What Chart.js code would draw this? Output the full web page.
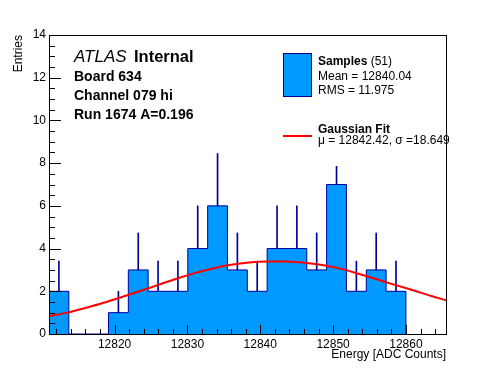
<!DOCTYPE html>
<html>
<head>
<meta charset="utf-8">
<script src="https://cdn.jsdelivr.net/npm/chart.js@4.4.0/dist/chart.umd.min.js"></script>
<style>
  html, body { margin: 0; padding: 0; background: #fff; }
</style>
</head>
<body>
<canvas id="hist" width="496" height="372"></canvas>
<script>
// histogram: 18 equal bins between histMin and histMax
const histMin = 12811.0;
const histMax = 12860.0;
const counts = [2, 0, 0, 1, 3, 2, 2, 4, 6, 3, 2, 4, 4, 3, 7, 2, 3, 2];
// upper error bar length per bin, as drawn on the plot
const errUp = [1.41, 0, 0, 1.0, 1.73, 1.41, 1.41, 2.0, 2.45, 1.73, 1.41, 2.0, 2.0, 1.73, 0.85, 1.41, 1.73, 1.41];

// gaussian fit curve
const fitX = [12811, 12813.5, 12816, 12818.5, 12821, 12823.5, 12826, 12828.5, 12831, 12833.5, 12836, 12838.5,
              12841, 12843.5, 12846, 12848.5, 12851, 12853.5, 12856, 12858.5, 12861, 12863.5, 12865.5];
const fitY = [0.83, 1.0, 1.22, 1.46, 1.73, 2.01, 2.3, 2.59, 2.85, 3.07, 3.24, 3.35,
              3.4, 3.4, 3.34, 3.23, 3.06, 2.82, 2.56, 2.3, 2.05, 1.78, 1.58];

const xTicks = [12820, 12830, 12840, 12850, 12860];
const yTicks = [0, 2, 4, 6, 8, 10, 12, 14];
const xRange = [12811.0, 12865.5];
const yRange = [0, 14];

const infoLines = ['Board 634', 'Channel 079 hi', 'Run 1674 A=0.196'];
const sampleStats = ['Mean = 12840.04', 'RMS = 11.975'];
const fitStats = 'μ = 12842.42, σ =18.649';

const FONT = '"Liberation Sans", Arial, Helvetica, sans-serif';
const FILL = '#0099ff';
const EDGE = '#000099';

const binW = (histMax - histMin) / counts.length;

// outline + fill of the histogram as a stepped line
const stepPts = [{x: histMin, y: 0}];
counts.forEach((c, i) => stepPts.push({x: histMin + i * binW, y: c}));
stepPts.push({x: histMax, y: 0});

const errPts = [];
counts.forEach((c, i) => {
    if (c > 0) errPts.push({x: histMin + (i + 0.5) * binW, y: [c, c + errUp[i]]});
});

const fitPts = fitX.map((x, i) => ({x: x, y: fitY[i]}));

// ROOT style inward ticks, frame, labels and legend
const decor = {
    id: 'decor',
    afterDraw(chart) {
        const ctx = chart.ctx;
        const a = chart.chartArea;
        const sx = chart.scales.x;
        const sy = chart.scales.y;
        const left = Math.round(a.left), right = Math.round(a.right);
        const top = Math.round(a.top), bottom = Math.round(a.bottom);
        ctx.save();
        ctx.fillStyle = '#000000';
        for (let v = Math.ceil(xRange[0] / 2) * 2; v <= xRange[1]; v += 2) {
            const px = Math.round(sx.getPixelForValue(v));
            const len = xTicks.includes(v) ? 9 : 5;
            ctx.fillRect(px, bottom - len, 1, len);
        }
        for (let v = yRange[0]; v <= yRange[1]; v += 0.5) {
            const py = Math.round(sy.getPixelForValue(v));
            const len = yTicks.includes(v) ? 12 : 6;
            ctx.fillRect(left, py, len, 1);
        }
        // frame
        ctx.fillRect(left, top, right - left + 1, 1);
        ctx.fillRect(left, bottom, right - left + 1, 1);
        ctx.fillRect(left, top, 1, bottom - top + 1);
        ctx.fillRect(right, top, 1, bottom - top + 1);

        // ATLAS label block
        ctx.textAlign = 'left';
        ctx.textBaseline = 'alphabetic';
        ctx.font = 'italic 17px ' + FONT;
        ctx.fillText('ATLAS', 74, 62);
        ctx.font = 'bold 16.5px ' + FONT;
        ctx.fillText('Internal', 134, 62);
        ctx.font = 'bold 14px ' + FONT;
        [80.5, 100, 119].forEach((by, i) => ctx.fillText(infoLines[i], 74, by));

        // legend
        ctx.fillStyle = FILL;
        ctx.fillRect(283.5, 53.5, 28, 43);
        ctx.strokeStyle = EDGE;
        ctx.lineWidth = 1;
        ctx.strokeRect(283.5, 53.5, 28, 43);
        ctx.fillStyle = '#000';
        ctx.font = 'bold 12px ' + FONT;
        ctx.fillText('Samples', 318, 65);
        const sw = ctx.measureText('Samples ').width;
        ctx.font = '12px ' + FONT;
        ctx.fillText('(51)', 318 + sw, 65);
        ctx.fillText(sampleStats[0], 318, 80);
        ctx.fillText(sampleStats[1], 318, 94);

        ctx.fillStyle = '#ff0000';
        ctx.fillRect(283, 135, 29, 2);
        ctx.fillStyle = '#000';
        ctx.font = 'bold 12px ' + FONT;
        ctx.fillText('Gaussian Fit', 318, 133);
        ctx.font = '12px ' + FONT;
        ctx.fillText(fitStats, 318, 143.5);
        ctx.restore();
    }
};

const axisFont = {family: FONT, size: 12};

new Chart(document.getElementById('hist').getContext('2d'), {
    type: 'line',
    data: {
        datasets: [{
            type: 'line',
            label: 'Gaussian Fit',
            data: fitPts,
            borderColor: '#ff0000',
            borderWidth: 2,
            pointRadius: 0,
            cubicInterpolationMode: 'monotone',
            fill: false,
            order: 0
        }, {
            type: 'bar',
            label: 'errors',
            data: errPts,
            backgroundColor: EDGE,
            borderWidth: 0,
            barThickness: 1,
            order: 1
        }, {
            type: 'line',
            label: 'Samples',
            data: stepPts,
            stepped: 'before',
            borderColor: EDGE,
            borderWidth: 1,
            backgroundColor: FILL,
            fill: 'origin',
            pointRadius: 0,
            order: 2
        }]
    },
    options: {
        responsive: false,
        devicePixelRatio: 1,
        animation: false,
        layout: {padding: {top: 35, right: 50, left: 0, bottom: 0}},
        plugins: {legend: {display: false}, tooltip: {enabled: false}},
        scales: {
            x: {
                type: 'linear',
                min: xRange[0],
                max: xRange[1],
                offset: false,
                grid: {display: false, drawTicks: false},
                border: {display: false},
                afterBuildTicks: s => { s.ticks = xTicks.map(v => ({value: v})); },
                afterFit: s => { s.height = 38; },
                ticks: {padding: 3, color: '#000', font: axisFont, maxRotation: 0, autoSkip: false,
                        callback: v => String(v)},
                title: {display: true, text: 'Energy [ADC Counts]', align: 'end', color: '#000',
                        font: axisFont, padding: {top: 0, bottom: 10}}
            },
            y: {
                type: 'linear',
                min: yRange[0],
                max: yRange[1],
                grid: {display: false, drawTicks: false},
                border: {display: false},
                afterBuildTicks: s => { s.ticks = yTicks.map(v => ({value: v})); },
                afterFit: s => { s.width = 49; },
                ticks: {padding: 3, color: '#000', font: axisFont, callback: v => String(v)},
                title: {display: true, text: 'Entries', align: 'end', color: '#000',
                        font: axisFont, padding: {top: 11, bottom: 0}}
            }
        }
    },
    plugins: [decor]
});
</script>
</body>
</html>
